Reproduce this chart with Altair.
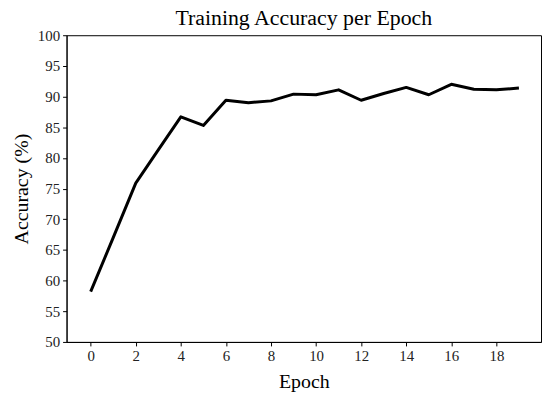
import altair as alt
import pandas as pd

epochs = list(range(20))
accuracy = [58.2, 67.0, 75.9, 81.3, 86.7, 85.3, 89.4, 89.0, 89.3, 90.4,
            90.3, 91.1, 89.4, 90.5, 91.5, 90.3, 92.0, 91.2, 91.1, 91.4]
x_ticks = [0, 2, 4, 6, 8, 10, 12, 14, 16, 18]
y_ticks = [50, 55, 60, 65, 70, 75, 80, 85, 90, 95, 100]

df = pd.DataFrame({"Epoch": epochs, "Accuracy": accuracy})

FONT = "Palatino Linotype, Book Antiqua, Palatino, Liberation Serif, serif"

chart = alt.Chart(df).mark_line(color="black", strokeWidth=3, strokeJoin="round").encode(
    x=alt.X("Epoch:Q",
            scale=alt.Scale(domain=[-1.07, 19.98], nice=False, zero=False),
            axis=alt.Axis(values=x_ticks, title="Epoch", format="d")),
    y=alt.Y("Accuracy:Q",
            scale=alt.Scale(domain=[50, 100], nice=False, zero=False),
            axis=alt.Axis(values=y_ticks, title="Accuracy (%)", format="d")),
).properties(
    width=478,
    height=309,
    title=alt.TitleParams("Training Accuracy per Epoch", fontSize=22, font=FONT,
                          fontWeight="normal", color="black", offset=-2),
    padding={"left": 59, "top": 26, "right": 1, "bottom": 50},
    autosize=alt.AutoSizeParams(type="none"),
).configure_view(
    stroke="black", strokeWidth=1
).configure_axis(
    grid=False,
    domainColor="black",
    tickColor="black",
    tickSize=4,
    labelFont=FONT,
    labelFontSize=15,
    labelColor="#222",
    labelPadding=3,
    titleFont=FONT,
    titleFontSize=20,
    titleFontWeight="normal",
    titleColor="black",
).configure_axisX(
    labelAngle=0, titlePadding=8
).configure_axisY(
    titlePadding=6
)

chart.save("out.html", embed_options={"renderer": "svg", "actions": False})
